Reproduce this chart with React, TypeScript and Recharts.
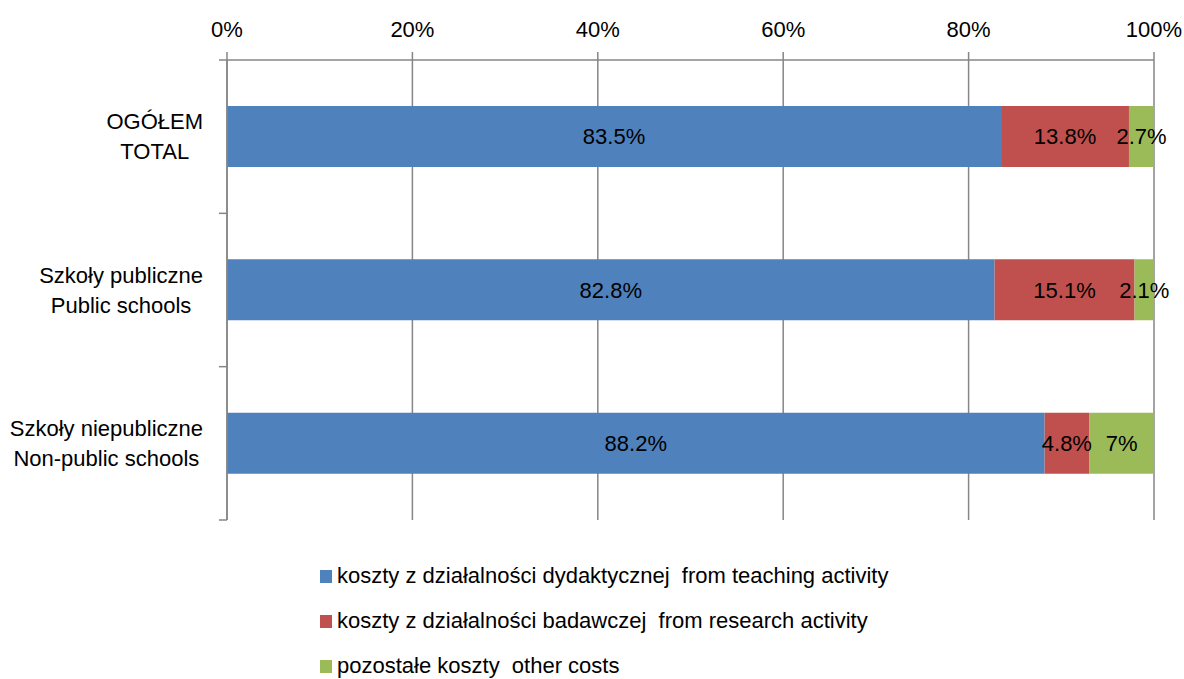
import React from "react";
import { BarChart, Bar, XAxis, YAxis, CartesianGrid, Legend, LabelList } from "recharts";

const categories = [
  ["OGÓŁEM", "TOTAL"],
  ["Szkoły publiczne", "Public schools"],
  ["Szkoły niepubliczne", "Non-public schools"],
];
const teaching = [83.5, 82.8, 88.2];
const research = [13.8, 15.1, 4.8];
const other = [2.7, 2.1, 7];
const xTicks = [0, 20, 40, 60, 80, 100];
const seriesNames = [
  "koszty z działalności dydaktycznej  from teaching activity",
  "koszty z działalności badawczej  from research activity",
  "pozostałe koszty  other costs",
];

const FONT = '"Liberation Sans Narrow", "Arial Narrow", "Liberation Sans", Arial, sans-serif';
const FS = 22;
const GRAY = "#868686";
const COLORS = ["#4F81BD", "#C0504D", "#9BBB59"];
const TICK_SIZE = 8;
const TICK_MARGIN = 16;

const data = categories.map((c, i) => ({
  name: c.join("\n"),
  teaching: teaching[i],
  research: research[i],
  other: other[i],
}));

let ctx: CanvasRenderingContext2D | null = null;
function measure(s: string) {
  if (!ctx) ctx = document.createElement("canvas").getContext("2d");
  if (!ctx) return s.length * 10;
  ctx.font = `${FS}px ${FONT}`;
  return ctx.measureText(s).width;
}

// category label block: lines centred, block right-aligned; boundary ticks between categories
function CategoryTick(props: any) {
  const { x, y, payload, index, visibleTicksCount, height } = props;
  const lines = String(payload.value).split("\n");
  const w = Math.max(...lines.map(measure));
  const cx = x - w / 2;
  const band = (height || 460) / (visibleTicksCount || 3);
  const ax = x + TICK_SIZE + TICK_MARGIN;
  return (
    <g>
      {lines.map((l, i) => (
        <text
          key={i}
          x={cx}
          y={y + (i - (lines.length - 1) / 2) * 30}
          textAnchor="middle"
          dominantBaseline="central"
          fontFamily={FONT}
          fontSize={FS}
          fill="#000"
        >
          {l}
        </text>
      ))}
      <line x1={ax - TICK_SIZE} x2={ax} y1={y - band / 2} y2={y - band / 2} stroke={GRAY} strokeWidth={1.5} />
      {index === visibleTicksCount - 1 && (
        <line x1={ax - TICK_SIZE} x2={ax} y1={y + band / 2} y2={y + band / 2} stroke={GRAY} strokeWidth={1.5} />
      )}
    </g>
  );
}

function LegendContent() {
  return (
    <div style={{ height: 159, paddingTop: 43, paddingLeft: 312, boxSizing: "border-box" }}>
      {seriesNames.map((n, i) => (
        <div
          key={n}
          style={{
            display: "flex",
            alignItems: "center",
            height: 26,
            marginBottom: 19,
            fontFamily: FONT,
            fontSize: FS,
            color: "#000",
            whiteSpace: "pre",
          }}
        >
          <span style={{ width: 12, height: 13, background: COLORS[i], marginRight: 5, display: "inline-block" }} />
          {n}
        </div>
      ))}
    </div>
  );
}

const fmt = (v: any) => `${v}%`;

export default function App() {
  return (
    <div style={{ padding: "8px 0 0 8px" }}>
      <style>{"body{margin:0;overflow:hidden}"}</style>
      <BarChart
        width={1176}
        height={671}
        data={data}
        layout="vertical"
        margin={{ top: 0, right: 30, left: 0, bottom: 0 }}
        barCategoryGap="30%"
      >
        <CartesianGrid horizontal={false} stroke={GRAY} strokeWidth={1.5} />
        <XAxis
          type="number"
          orientation="top"
          domain={[0, 100]}
          ticks={xTicks}
          tickFormatter={fmt}
          height={52}
          tickSize={TICK_SIZE}
          tickMargin={15}
          axisLine={{ stroke: GRAY, strokeWidth: 1.5 }}
          tickLine={{ stroke: GRAY, strokeWidth: 1.5 }}
          tick={{ fill: "#000", fontSize: FS, fontFamily: FONT }}
        />
        <YAxis
          type="category"
          dataKey="name"
          width={219}
          tickSize={TICK_SIZE}
          tickMargin={TICK_MARGIN}
          axisLine={{ stroke: GRAY, strokeWidth: 1.5 }}
          tickLine={false}
          tick={<CategoryTick />}
          interval={0}
        />
        <Legend verticalAlign="bottom" align="left" wrapperStyle={{ left: 0, width: 1176 }} content={<LegendContent />} />
        <Bar dataKey="teaching" stackId="a" fill={COLORS[0]} isAnimationActive={false}>
          <LabelList dataKey="teaching" position="center" formatter={fmt} fill="#000" fontSize={FS} fontFamily={FONT} />
        </Bar>
        <Bar dataKey="research" stackId="a" fill={COLORS[1]} isAnimationActive={false}>
          <LabelList dataKey="research" position="center" formatter={fmt} fill="#000" fontSize={FS} fontFamily={FONT} />
        </Bar>
        <Bar dataKey="other" stackId="a" fill={COLORS[2]} isAnimationActive={false}>
          <LabelList dataKey="other" position="center" formatter={fmt} fill="#000" fontSize={FS} fontFamily={FONT} />
        </Bar>
      </BarChart>
    </div>
  );
}
